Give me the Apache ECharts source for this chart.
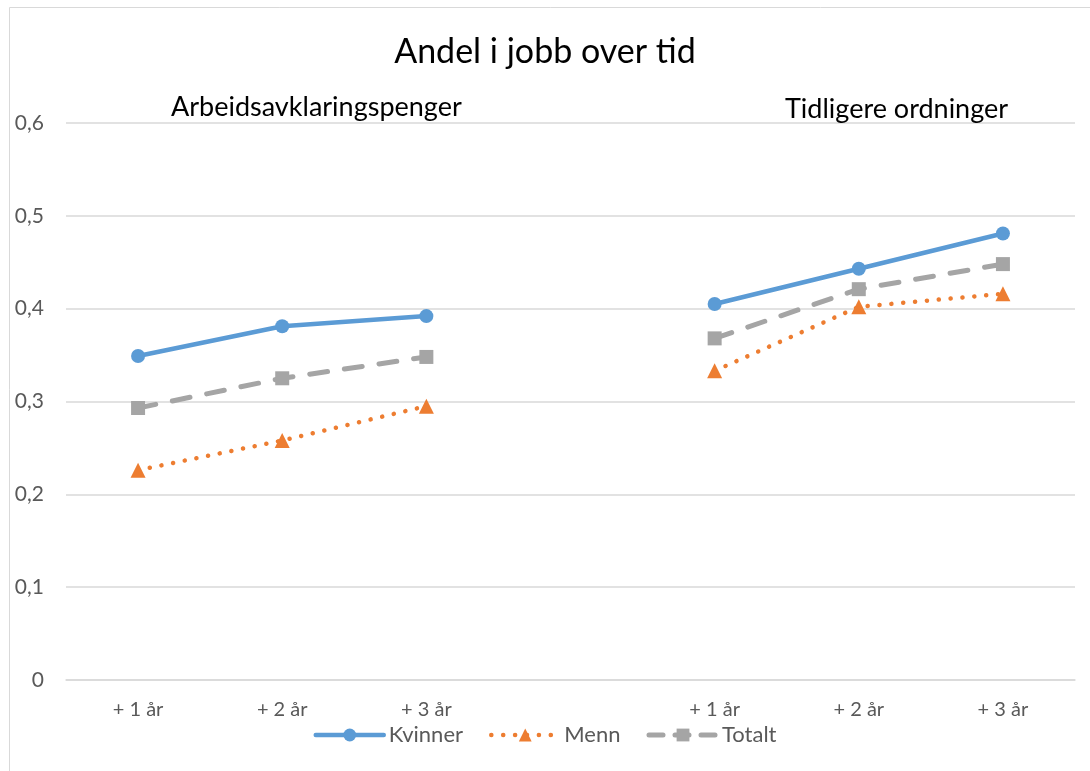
<!DOCTYPE html>
<html>
<head>
<meta charset="utf-8">
<script src="https://cdn.jsdelivr.net/npm/echarts@6/dist/echarts.min.js"></script>
<style>html,body{margin:0;padding:0;background:#fff}#c{width:1090px;height:771px}</style>
</head>
<body>
<div id="c"></div>
<script>
const categories = ["+ 1 år", "+ 2 år", "+ 3 år", "", "+ 1 år", "+ 2 år", "+ 3 år"];
const kvinner = [0.349, 0.381, 0.392, null, 0.405, 0.443, 0.481];
const menn    = [0.226, 0.258, 0.295, null, 0.333, 0.402, 0.416];
const totalt  = [0.293, 0.325, 0.348, null, 0.368, 0.421, 0.448];
const groupLabels = ["Arbeidsavklaringspenger", "Tidligere ordninger"];
const titleText = "Andel i jobb over tid";

const FONT = "Lato, 'Open Sans', sans-serif";
const C = {k: '#5B9BD5', m: '#ED7D31', t: '#A5A5A5'};
const styles = {
  Kvinner: {color: C.k, width: 4.5, type: 'solid'},
  Menn: {color: C.m, width: 4.5, type: [0.1, 11.8]},
  Totalt: {color: C.t, width: 5, type: [18, 17]}
};
const chart = echarts.init(document.getElementById('c'), null, {renderer: 'canvas'});
chart.setOption({
  backgroundColor: '#fff',
  animation: false,
  title: [
    {text: titleText, left: 'center', top: 30, textStyle: {fontFamily: FONT, fontSize: 34, fontWeight: 'normal', color: '#000'}},
    {text: groupLabels[0], left: 166, top: 89, textStyle: {fontFamily: FONT, fontSize: 27, fontWeight: 'normal', color: '#000'}},
    {text: groupLabels[1], left: 780, top: 91, textStyle: {fontFamily: FONT, fontSize: 27, fontWeight: 'normal', color: '#000'}}
  ],
  graphic: [
    {type: 'rect', shape: {x: 9.5, y: 7.5, width: 1200, height: 900}, style: {fill: 'none', stroke: '#D9D9D9', lineWidth: 1}, silent: true}
  ],
  grid: {left: 66, right: 15, top: 123, bottom: 91, containLabel: false},
  legend: {
    bottom: 20, left: 'center', itemWidth: 68, itemHeight: 16, itemGap: 26,
    textStyle: {fontFamily: FONT, fontSize: 22, color: '#595959'},
    data: ['Kvinner', 'Menn', 'Totalt'].map(n => ({
      name: n,
      lineStyle: {color: styles[n].color, width: styles[n].width, type: n === 'Totalt' ? [14, 12] : styles[n].type, cap: 'round'}
    }))
  },
  xAxis: {
    type: 'category', data: categories, boundaryGap: true,
    axisLine: {show: true, lineStyle: {color: '#D9D9D9', width: 1.5}},
    axisTick: {show: false},
    axisLabel: {fontFamily: FONT, fontSize: 20, color: '#595959', margin: 20}
  },
  yAxis: {
    type: 'value', min: 0, max: 0.6, interval: 0.1,
    axisLine: {show: false}, axisTick: {show: false},
    splitLine: {lineStyle: {color: '#D9D9D9', width: 1.5}},
    axisLabel: {fontFamily: FONT, fontSize: 21, color: '#595959', margin: 22,
      formatter: v => (Math.round(v * 10) / 10).toString().replace('.', ',')}
  },
  series: [
    {name: 'Kvinner', type: 'line', data: kvinner, connectNulls: false,
     symbol: 'circle', symbolSize: 14, color: C.k,
     itemStyle: {color: C.k},
     lineStyle: {color: C.k, width: styles.Kvinner.width, cap: 'round'}, z: 4},
    {name: 'Menn', type: 'line', data: menn, connectNulls: false,
     symbol: 'triangle', symbolSize: 15, color: C.m,
     itemStyle: {color: C.m},
     lineStyle: {color: C.m, width: styles.Menn.width, type: styles.Menn.type, cap: 'round'}, z: 3},
    {name: 'Totalt', type: 'line', data: totalt, connectNulls: false,
     symbol: 'rect', symbolSize: 14, color: C.t,
     itemStyle: {color: C.t},
     lineStyle: {color: C.t, width: styles.Totalt.width, type: styles.Totalt.type, cap: 'round'}, z: 2}
  ]
});
</script>
</body>
</html>
